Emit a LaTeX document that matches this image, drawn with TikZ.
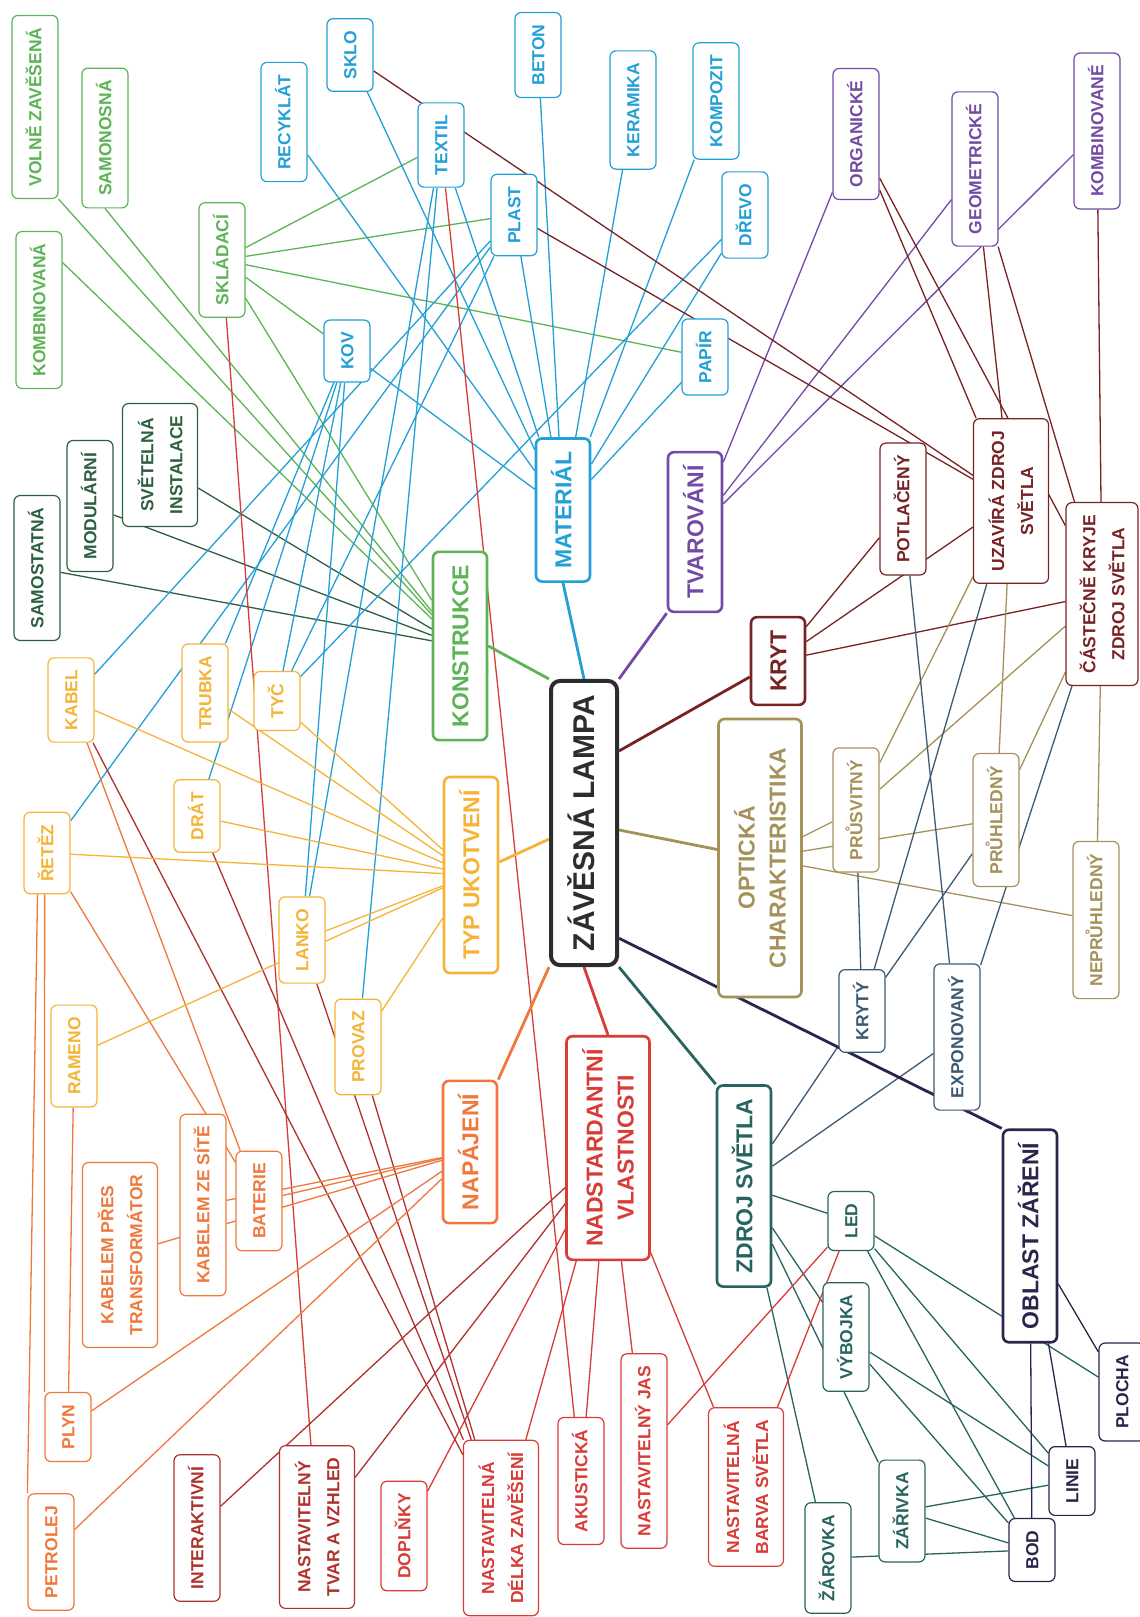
\documentclass[tikz,border=0pt]{standalone}
\usepackage{fontspec}
\setmainfont{Liberation Sans}
\usetikzlibrary{backgrounds,calc}
\definecolor{hubgray}{RGB}{45,45,45}
\definecolor{kgreen}{RGB}{92,180,85}
\definecolor{dgreen}{RGB}{45,95,65}
\definecolor{kblue}{RGB}{35,160,215}
\definecolor{kpurple}{RGB}{115,75,165}
\definecolor{kmaroon}{RGB}{120,35,35}
\definecolor{kolive}{RGB}{165,145,90}
\definecolor{kslate}{RGB}{60,90,115}
\definecolor{kteal}{RGB}{40,100,95}
\definecolor{knavy}{RGB}{45,35,75}
\definecolor{kred}{RGB}{215,60,55}
\definecolor{kdred}{RGB}{175,50,45}
\definecolor{korange}{RGB}{240,120,60}
\definecolor{kyellow}{RGB}{245,180,55}
\tikzset{
  base/.style={draw, fill=white, rotate=90, rounded corners=6pt, inner xsep=12pt},
  sub/.style={base, draw=#1, text=#1, line width=1.2pt, minimum height=46pt,
    text height=12.5pt, text depth=0pt, font=\bfseries\fontsize{17.5}{29}\selectfont},
  subtwo/.style={base, draw=#1, text=#1, line width=1.2pt, minimum height=75pt,
    align=center, font=\bfseries\fontsize{17.5}{29}\selectfont},
  cat/.style={base, draw=#1, text=#1, line width=2.6pt, minimum height=54pt, inner xsep=13pt,
    text height=16.5pt, text depth=0pt, font=\bfseries\fontsize{23}{31}\selectfont},
  cattwo/.style={base, draw=#1, text=#1, line width=2.6pt, minimum height=83pt, inner xsep=13pt,
    align=center, font=\bfseries\fontsize{23}{31}\selectfont},
  hub/.style={base, draw=hubgray, text=hubgray, line width=4pt, rounded corners=9pt,
    minimum height=66pt, inner xsep=14pt, text height=21.5pt, text depth=0pt,
    font=\bfseries\fontsize{30}{36}\selectfont},
  ln/.style={draw=#1, line width=1.3pt},
  main/.style={draw=#1, line width=2.8pt},
}
\begin{document}
\begin{tikzpicture}[x=1pt,y=-1pt]
  \useasboundingbox (0,0) rectangle (1140,1617);
  \node[hub] (lampa) at (584,823) {ZÁVĚSNÁ LAMPA};
  \node[cat=kgreen] (konstr) at (460,646) {KONSTRUKCE};
  \node[cat=kblue] (mater) at (563,510) {MATERIÁL};
  \node[cat=kpurple] (tvar) at (695,532) {TVAROVÁNÍ};
  \node[cat=kmaroon] (kryt) at (778,661) {KRYT};
  \node[cattwo=kolive, minimum width=278pt] (optika) at (760,858) {OPTICKÁ\\CHARAKTERISTIKA};
  \node[cat=kteal] (zdroj) at (744,1186) {ZDROJ SVĚTLA};
  \node[cat=knavy] (oblast) at (1030,1236) {OBLAST ZÁŘENÍ};
  \node[cattwo=kred] (nadst) at (608,1148) {NADSTARDANTNÍ\\VLASTNOSTI};
  \node[cat=korange] (napaj) at (470,1152) {NAPÁJENÍ};
  \node[cat=kyellow] (typ) at (471,875) {TYP UKOTVENÍ};

  \node[sub=kgreen] (volne) at (35,107) {VOLNĚ ZAVĚŠENÁ};
  \node[sub=kgreen] (samonosna) at (105,138) {SAMONOSNÁ};
  \node[sub=kgreen] (kombinovana) at (39,310) {KOMBINOVANÁ};
  \node[sub=kgreen] (skladaci) at (222,260) {SKLÁDACÍ};
  \node[sub=dgreen] (samostatna) at (37,568) {SAMOSTATNÁ};
  \node[sub=dgreen] (modularni) at (90,506) {MODULÁRNÍ};
  \node[subtwo=dgreen] (instalace) at (160,465) {SVĚTELNÁ\\INSTALACE};

  \node[sub=kblue] (recyklat) at (284,122) {RECYKLÁT};
  \node[sub=kblue] (sklo) at (350,55) {SKLO};
  \node[sub=kblue] (textil) at (441,145) {TEXTIL};
  \node[sub=kblue] (beton) at (538,55) {BETON};
  \node[sub=kblue] (plast) at (514,215) {PLAST};
  \node[sub=kblue] (keramika) at (633,110) {KERAMIKA};
  \node[sub=kblue] (kompozit) at (716,101) {KOMPOZIT};
  \node[sub=kblue] (drevo) at (745,215) {DŘEVO};
  \node[sub=kblue] (papir) at (705,357) {PAPÍR};
  \node[sub=kblue] (kov) at (347,351) {KOV};

  \node[sub=kpurple] (organicke) at (856,134) {ORGANICKÉ};
  \node[sub=kpurple] (geometricke) at (975,169) {GEOMETRICKÉ};
  \node[sub=kpurple] (kombinovane) at (1097,131) {KOMBINOVANÉ};

  \node[sub=kmaroon] (potlaceny) at (903,509) {POTLAČENÝ};
  \node[subtwo=kmaroon] (uzavira) at (1011,501) {UZAVÍRÁ ZDROJ\\SVĚTLA};
  \node[subtwo=kmaroon, minimum height=72pt] (castecne) at (1102,594) {ČÁSTEČNĚ KRYJE\\ZDROJ SVĚTLA};

  \node[sub=kolive] (prusvitny) at (856,810) {PRŮSVITNÝ};
  \node[sub=kolive] (pruhledny) at (996,820) {PRŮHLEDNÝ};
  \node[sub=kolive] (nepruhledny) at (1096,920) {NEPRŮHLEDNÝ};
  \node[sub=kslate] (kryty) at (862,1011) {KRYTÝ};
  \node[sub=kslate] (exponovany) at (957,1037) {EXPONOVANÝ};

  \node[sub=kteal] (led) at (851,1221) {LED};
  \node[sub=kteal] (vybojka) at (846,1337) {VÝBOJKA};
  \node[sub=kteal] (zarivka) at (902,1511) {ZÁŘIVKA};
  \node[sub=kteal] (zarovka) at (828,1558) {ŽÁROVKA};
  \node[sub=knavy] (bod) at (1032,1550) {BOD};
  \node[sub=knavy] (linie) at (1072,1481) {LINIE};
  \node[sub=knavy] (plocha) at (1122,1392) {PLOCHA};

  \node[sub=kdred] (interaktivni) at (197,1528) {INTERAKTIVNÍ};
  \node[subtwo=kdred] (tvarvzhled) at (317,1527) {NASTAVITELNÝ\\TVAR A VZHLED};
  \node[sub=kred] (doplnky) at (404,1536) {DOPLŇKY};
  \node[subtwo=kred] (delka) at (501,1528) {NASTAVITELNÁ\\DÉLKA ZAVĚŠENÍ};
  \node[sub=kred] (akusticka) at (581,1481) {AKUSTICKÁ};
  \node[sub=kred] (jas) at (644,1451) {NASTAVITELNÝ JAS};
  \node[subtwo=kred] (barva) at (746,1487) {NASTAVITELNÁ\\BARVA SVĚTLA};

  \node[subtwo=korange] (transform) at (120,1255) {KABELEM PŘES\\TRANSFORMÁTOR};
  \node[sub=korange] (zesite) at (203,1205) {KABELEM ZE SÍTĚ};
  \node[sub=korange] (baterie) at (259,1201) {BATERIE};
  \node[sub=korange] (plyn) at (68,1427) {PLYN};
  \node[sub=korange] (petrolej) at (51,1552) {PETROLEJ};

  \node[sub=kyellow] (kabel) at (71,700) {KABEL};
  \node[sub=kyellow] (trubka) at (205,693) {TRUBKA};
  \node[sub=kyellow] (tyc) at (277,701) {TYČ};
  \node[sub=kyellow] (drat) at (197,816) {DRÁT};
  \node[sub=kyellow] (retez) at (47,853) {ŘETĚZ};
  \node[sub=kyellow] (lanko) at (302,940) {LANKO};
  \node[sub=kyellow] (rameno) at (74,1056) {RAMENO};
  \node[sub=kyellow] (provaz) at (358,1047) {PROVAZ};

  \begin{pgfonlayer}{background}
    \fill[white] (0,0) rectangle (1140,1617);
    \draw[ln=kgreen] (volne.south west) -- (konstr);
    \draw[ln=kgreen] (samonosna.west) -- (konstr);
    \draw[ln=kgreen] ($(kombinovana.south east)!0.2!(kombinovana.south west)$) -- (konstr);
    \foreach \a/\b in {skladaci/konstr, skladaci/textil, skladaci/plast, skladaci/papir, skladaci/kov}
      \draw[ln=kgreen] (\a) -- (\b);
    \foreach \a in {samostatna, modularni, instalace}
      \draw[ln=dgreen] (\a) -- (konstr);
    \foreach \a in {recyklat, sklo, textil, beton, plast, keramika, kompozit, drevo, papir, kov}
      \draw[ln=kblue] (\a) -- (mater);
    \foreach \a/\b in {plast/kabel, kov/trubka, kov/tyc, plast/tyc, drevo/tyc, kov/drat,
        kov/lanko, textil/lanko, textil/provaz, plast/retez}
      \draw[ln=kblue] (\a) -- (\b);
    \foreach \a in {organicke, geometricke, kombinovane}
      \draw[ln=kpurple] (tvar) -- (\a);
    \foreach \a/\b in {sklo/uzavira, plast/uzavira, organicke/uzavira, organicke/castecne,
        geometricke/uzavira, geometricke/castecne, kombinovane/castecne,
        kryt/potlaceny, kryt/uzavira, kryt/castecne}
      \draw[ln=kmaroon] (\a) -- (\b);
    \foreach \a/\b in {optika/prusvitny, optika/pruhledny, optika/nepruhledny,
        uzavira/prusvitny, uzavira/pruhledny, castecne/prusvitny, castecne/pruhledny,
        castecne/nepruhledny}
      \draw[ln=kolive] (\a) -- (\b);
    \foreach \a/\b in {uzavira/kryty, potlaceny/exponovany, castecne/exponovany,
        prusvitny/kryty, pruhledny/kryty, zdroj/kryty, zdroj/exponovany}
      \draw[ln=kslate] (\a) -- (\b);
    \foreach \a/\b in {zdroj/led, zdroj/vybojka, zdroj/zarivka, zdroj/zarovka,
        led/bod, led/linie, led/plocha, vybojka/linie, vybojka/bod,
        zarivka/linie, zarivka/bod, zarovka/bod}
      \draw[ln=kteal] (\a) -- (\b);
    \foreach \a in {bod, linie, plocha}
      \draw[ln=knavy] (oblast) -- (\a);
    \foreach \a/\b in {nadst/akusticka, nadst/jas, nadst/barva, nadst/delka, nadst/doplnky,
        jas/led, barva/led, skladaci/tvarvzhled, textil/akusticka}
      \draw[ln=kred] (\a) -- (\b);
    \foreach \a/\b in {nadst/interaktivni, nadst/tvarvzhled, kabel/delka, drat/delka,
        lanko/delka, provaz/delka}
      \draw[ln=kdred] (\a) -- (\b);
    \foreach \a/\b in {napaj/transform, napaj/zesite, napaj/baterie, napaj/plyn, napaj/petrolej,
        kabel/baterie, retez/baterie, rameno/plyn}
      \draw[ln=korange] (\a) -- (\b);
    \draw[ln=korange] ($(retez.north west)!0.3!(retez.south west)$) -- (petrolej.north east);
    \draw[ln=korange] ($(retez.north west)!0.45!(retez.south west)$) -- (plyn.north east);
    \foreach \a in {kabel, trubka, tyc, drat, retez, lanko, rameno, provaz}
      \draw[ln=kyellow] (typ) -- (\a);

    \draw[main=kgreen] (lampa.north east) -- (konstr.south);
    \draw[main=kblue] (lampa.east) -- (mater.west);
    \draw[main=kpurple] (lampa.south east) -- (tvar.north west);
    \draw[main=kmaroon] ($(lampa.south east)!0.25!(lampa.south west)$) -- (kryt);
    \draw[main=kolive] (lampa) -- (optika);
    \draw[main=knavy] ($(lampa.south east)!0.9!(lampa.south west)$) -- (oblast.north east);
    \draw[main=kteal] (lampa.south west) -- (zdroj.north east);
    \draw[main=kred] (lampa.west) -- (nadst.east);
    \draw[main=korange] (lampa.north west) -- (napaj.south east);
    \draw[main=kyellow] (lampa) -- (typ);
  \end{pgfonlayer}
\end{tikzpicture}
\end{document}
